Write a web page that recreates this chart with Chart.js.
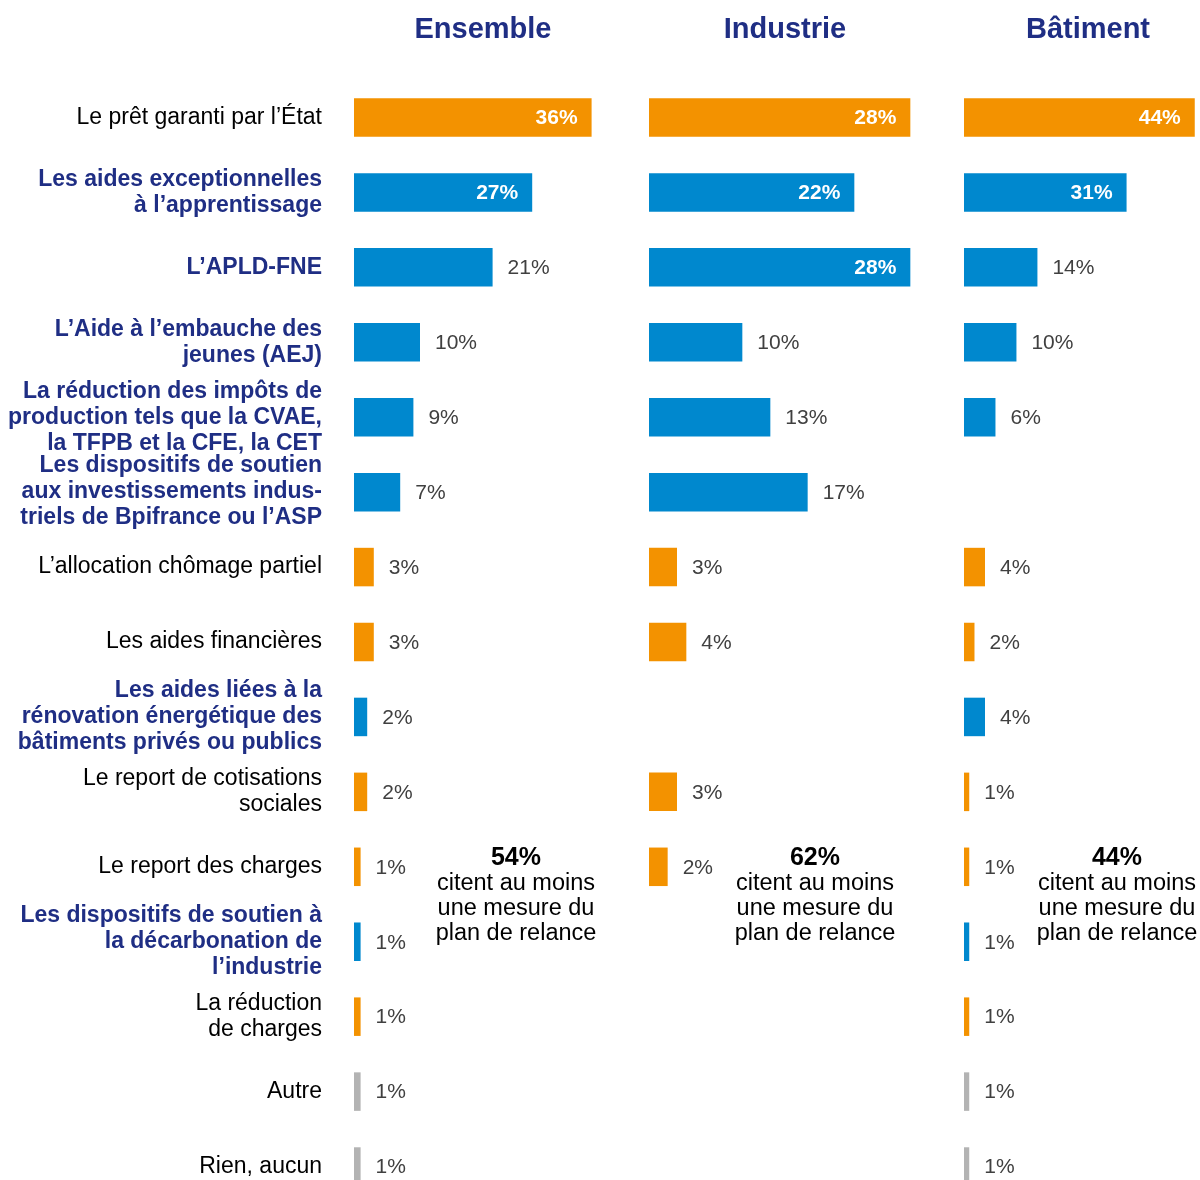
<!DOCTYPE html>
<html lang="fr">
<head>
<meta charset="utf-8">
<script src="https://cdn.jsdelivr.net/npm/chart.js@4.4.1/dist/chart.umd.min.js"></script>
<style>
  html, body { margin: 0; padding: 0; background: #fff; overflow: hidden; }
  #wrap { position: relative; width: 1200px; height: 1180px; overflow: hidden; font-family: "Liberation Sans", Arial, sans-serif; }
  canvas { position: absolute; top: 0; }
  .title { position: absolute; top: 11px; width: 260px; text-align: center; font-size: 29px; line-height: 34px; font-weight: bold; color: #1f2e84; }
  .note { position: absolute; top: 844px; width: 200px; text-align: center; font-size: 23.5px; line-height: 25px; color: #000; }
  .note b { font-size: 25px; }
</style>
</head>
<body>
<div id="wrap">
  <canvas id="c0" width="651" height="1204" style="left:0"></canvas>
  <canvas id="c1" width="280" height="1204" style="left:649px"></canvas>
  <canvas id="c2" width="236" height="1204" style="left:964px"></canvas>
</div>
<script>
  // libellés des mesures (lignes du graphique)
  const measures = [
    "Le prêt garanti par l’État",
    ["Les aides exceptionnelles", "à l’apprentissage"],
    "L’APLD-FNE",
    ["L’Aide à l’embauche des", "jeunes (AEJ)"],
    ["La réduction des impôts de", "production tels que la CVAE,", "la TFPB et la CFE, la CET"],
    ["Les dispositifs de soutien", "aux investissements indus-", "triels de Bpifrance ou l’ASP"],
    "L’allocation chômage partiel",
    "Les aides financières",
    ["Les aides liées à la", "rénovation énergétique des", "bâtiments privés ou publics"],
    ["Le report de cotisations", "sociales"],
    "Le report des charges",
    ["Les dispositifs de soutien à", "la décarbonation de", "l’industrie"],
    ["La réduction", "de charges"],
    "Autre",
    "Rien, aucun"
  ];
  // type de mesure : urgence, relance ou autre
  const measureType = ["urgence", "relance", "relance", "relance", "relance", "relance", "urgence", "urgence",
                       "relance", "urgence", "urgence", "relance", "urgence", "autre", "autre"];

  const panels = ["Ensemble", "Industrie", "Bâtiment"];
  const ensemble  = [36, 27, 21, 10, 9, 7, 3, 3, 2, 2, 1, 1, 1, 1, 1];
  const industrie = [28, 22, 28, 10, 13, 17, 3, 4, null, 3, 2, null, null, null, null];
  const batiment  = [44, 31, 14, 10, 6, null, 4, 2, 4, 1, 1, 1, 1, 1, 1];
  const atLeastOne = ["54%", "62%", "44%"];
  const noteText = ["citent au moins", "une mesure du", "plan de relance"];
  const axisMax = [45, 30, 45];

  const FONT = '"Liberation Sans", Arial, sans-serif';
  const typeColor = { urgence: "#f39200", relance: "#0088ce", autre: "#b3b3b3" };

  // étiquettes des valeurs : blanches dans les grandes barres (> 21 %), grises à côté sinon
  const valueLabels = {
    id: "valueLabels",
    afterDatasetsDraw(chart) {
      const ctx = chart.ctx;
      const meta = chart.getDatasetMeta(0);
      const data = chart.data.datasets[0].data;
      ctx.save();
      ctx.textBaseline = "middle";
      meta.data.forEach((bar, i) => {
        if (data[i] == null) return;
        const txt = data[i] + "%";
        if (data[i] > 21) {
          ctx.font = "bold 21px " + FONT;
          ctx.fillStyle = "#ffffff";
          ctx.textAlign = "right";
          ctx.fillText(txt, bar.x - 14, bar.y + 1);
        } else {
          ctx.font = "21px " + FONT;
          ctx.fillStyle = "#404040";
          ctx.textAlign = "left";
          ctx.fillText(txt, bar.x + 15, bar.y + 1);
        }
      });
      ctx.restore();
    }
  };

  function makeChart(idx, values) {
    const withLabels = idx === 0;
    const yAxis = {
      display: withLabels,
      grid: { display: false, drawTicks: false },
      border: { display: false },
      ticks: {
        autoSkip: false,
        padding: 32,
        color: c => measureType[c.index] === "relance" ? "#1f2e84" : "#000000",
        font: c => ({
          family: FONT,
          size: 23,
          weight: measureType[c.index] === "relance" ? "bold" : "normal",
          lineHeight: 1.13
        })
      }
    };
    if (withLabels) {
      yAxis.afterFit = scale => {
        scale.width = 354;
        scale.paddingTop = 0;
        scale.paddingBottom = 0;
      };
    }

    const config = {
      type: "bar",
      data: {
        labels: measures,
        datasets: [{
          data: values,
          backgroundColor: measureType.map(t => typeColor[t]),
          barPercentage: 0.514,
          categoryPercentage: 1
        }]
      },
      options: {
        indexAxis: "y",
        responsive: false,
        animation: false,
        layout: { padding: { top: 80, bottom: 0, left: 0, right: 0 } },
        plugins: { legend: { display: false }, tooltip: { enabled: false } },
        scales: {
          x: { display: false, min: 0, max: axisMax[idx] },
          y: yAxis
        }
      },
      plugins: [valueLabels]
    };
    return new Chart(document.getElementById("c" + idx), config);
  }

  // titres et encadrés en texte HTML
  const wrap = document.getElementById("wrap");
  const titleCenters = [483, 785, 1088];
  const noteCenters = [516, 815, 1117];
  panels.forEach((name, i) => {
    const t = document.createElement("div");
    t.className = "title";
    t.style.left = (titleCenters[i] - 130) + "px";
    t.textContent = name;
    wrap.appendChild(t);

    const n = document.createElement("div");
    n.className = "note";
    n.style.left = (noteCenters[i] - 100) + "px";
    n.innerHTML = "<b>" + atLeastOne[i] + "</b><br>" + noteText.join("<br>");
    wrap.appendChild(n);
  });

  makeChart(0, ensemble);
  makeChart(1, industrie);
  makeChart(2, batiment);
</script>
</body>
</html>
